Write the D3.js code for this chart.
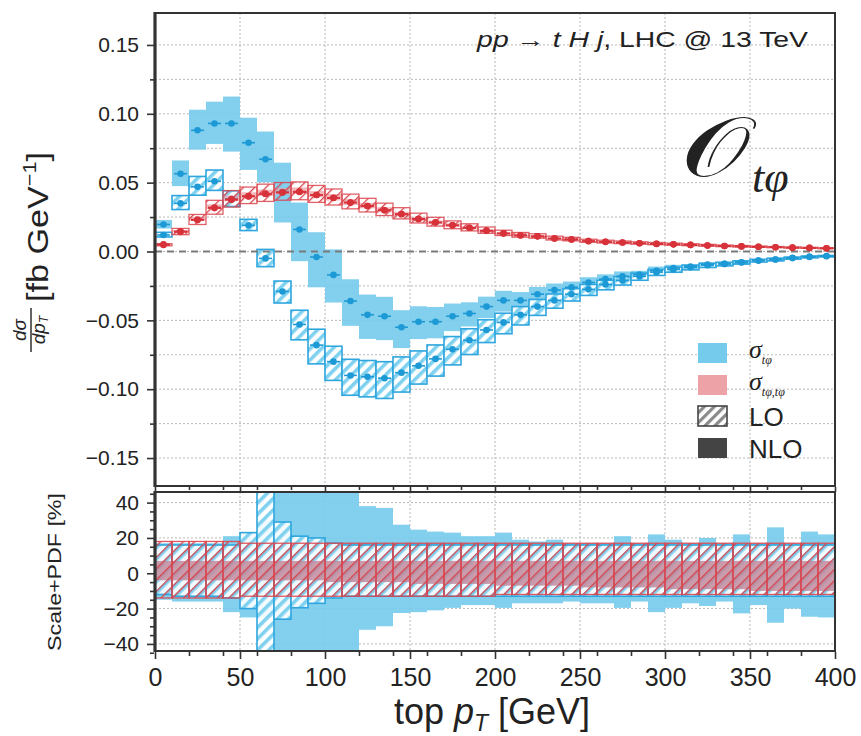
<!DOCTYPE html>
<html>
<head>
<meta charset="utf-8">
<script src="https://cdn.jsdelivr.net/npm/d3@7"></script>
<style>
  body { margin: 0; background: #fff; }
  svg { display: block; }
  text { font-family: "Liberation Sans", Arial, Helvetica, sans-serif; fill: #222; }
  .serif { font-family: "Liberation Serif", "DejaVu Serif", serif; }
  .math { font-family: "DejaVu Serif", "DejaVu Sans", serif; }
</style>
</head>
<body>
<svg id="chart" width="861" height="736"></svg>
<script>
// top-pT bin edges [GeV]
const binEdges = [0,10,20,30,40,50,60,70,80,90,100,110,120,130,140,150,160,170,180,190,200,
  210,220,230,240,250,260,270,280,290,300,310,320,330,340,350,360,370,380,390,400];

// dσ/dpT [fb/GeV], interference term σ_tφ
const blueNLO = [0.0196,0.0565,0.088,0.093,0.093,0.079,0.067,0.043,0.016,-0.004,
  -0.017,-0.036,-0.046,-0.047,-0.055,-0.051,-0.051,-0.047,-0.045,-0.040,
  -0.0355,-0.0355,-0.031,-0.028,-0.026,-0.0225,-0.020,-0.018,-0.0167,-0.014,
  -0.012,-0.011,-0.0094,-0.009,-0.008,-0.0065,-0.0058,-0.0045,-0.0036,-0.0033];
const blueLO = [0.012,0.035,0.047,0.051,0.038,0.019,-0.005,-0.029,-0.053,-0.068,
  -0.080,-0.090,-0.091,-0.092,-0.088,-0.083,-0.078,-0.071,-0.0645,-0.057,
  -0.0515,-0.046,-0.040,-0.0355,-0.031,-0.0275,-0.024,-0.021,-0.018,-0.015,
  -0.013,-0.0115,-0.010,-0.009,-0.0078,-0.0066,-0.0058,-0.0048,-0.004,-0.0034];

// dσ/dpT [fb/GeV], squared term σ_tφ,tφ
const redNLO = [0.0052,0.0146,0.0232,0.0320,0.0380,0.0402,0.0420,0.0430,0.0435,0.0410,
  0.0390,0.0355,0.0330,0.0300,0.0270,0.0235,0.0210,0.0190,0.0172,0.0150,
  0.0130,0.0116,0.0110,0.0094,0.0087,0.0075,0.0070,0.0065,0.0060,0.0055,
  0.0052,0.0048,0.0044,0.0040,0.0037,0.0034,0.0031,0.0028,0.0026,0.0023];
const redLO = [0.0048,0.0142,0.0228,0.0315,0.0375,0.0400,0.0418,0.0428,0.0432,0.0410,
  0.0388,0.0356,0.0330,0.0300,0.0272,0.0238,0.0212,0.0190,0.0172,0.0152,
  0.0132,0.0118,0.0110,0.0095,0.0088,0.0076,0.0070,0.0065,0.0060,0.0056,
  0.0052,0.0048,0.0044,0.0040,0.0037,0.0034,0.0031,0.0028,0.0026,0.0023];

// scale+PDF uncertainty [%] (upper / lower edge)
const blueNLOUp = [17,17,17,17,21,23,30,50,122,550,118,50,38,37,27.5,24.7,23.6,23,21,21,
  23,19,18,19,17,17,17,21,17,22,19,17,20,17,22,17,26,17,23.6,22];
const blueNLODn = [-15,-16,-16,-16,-22,-25,-25,-51,-144,-450,-109,-44,-32,-30,-22.5,-22,-21,-19.6,-18,-18,
  -19.6,-17,-17,-17,-16,-17,-17,-19.6,-16,-22,-19.6,-17,-18.5,-16,-22.7,-18,-28,-20,-24.6,-25];
const blueLOUp = [16,16,16,16,16,23,120,29,21,20,17,16,16,16,16,16,16,16,16,16,
  16,16,16,16,16,16,16,16,16,16,16,16,16,16,16,16,16,16,16,16];
const blueLODn = [-12,-13,-13,-13,-14,-20,-130,-26,-19.5,-17,-14,-13,-13,-13,-13,-13,-13,-13,-13,-13,
  -13,-13,-13,-13,-13,-13,-13,-13,-13,-13,-13,-13,-13,-13,-13,-13,-13,-13,-13,-13];
const redLOUp = [18,18,18,18,18,17,17,17,17,17,17,17,17,17,17,17,17,17,17,17,
  17,17,17,17,17,17,17,17,17,17,17,17,17,17,17,17,17,17,17,17];
const redLODn = [-14,-14,-14,-14,-14,-13,-13,-13,-13,-13,-13,-13,-13,-13,-13,-13,-13,-13,-13,-13,
  -12,-12,-12,-12,-12,-12,-12,-12,-12,-12,-12,-12,-12,-12,-12,-12,-12,-12,-12,-12];
const redNLOUp = [7,7,7,7,7,7,7,7,7,7,7,7,7,7,7,7,7,7,7,7,
  7,7,7,7,7,7,7,7,7,7,7,7,7,7,7,7,7,7,7,7];
const redNLODn = [-4,-4,-4,-4,-4,-4,-4,-4,-4,-4,-5,-5,-5,-5,-5,-6,-6,-6,-6,-6,
  -7,-7,-7,-7,-7,-8,-8,-8,-8,-8,-9,-9,-9,-9,-9,-10,-10,-10,-10,-10];

// axis ticks
const xMajor = [0,50,100,150,200,250,300,350,400];
const xMinor = [20,40,60,80,120,140,160,180,220,240,260,280,320,340,360,380];
const yMajor = [-0.15,-0.10,-0.05,0,0.05,0.10,0.15];
const yMinor = [-0.125,-0.075,-0.025,0.025,0.075,0.125];
const rMajor = [-40,-20,0,20,40];
const rMinor = [-45,-35,-30,-25,-15,-10,-5,5,10,15,25,30,35,45];

const C = {
  cyan: "#74cbec", cyanLine: "#2fa6de", blueDot: "#1d9ad5",
  pink: "#eda2a7", mauve: "#c1899c", redLine: "#dc454e", redDot: "#d7313a",
  frame: "#333", grid: "#b8b8b8"
};

const svg = d3.select("#chart");
const L = 155, R = 835, T1 = 13, B1 = 486, T2 = 492, B2 = 651;

const x = d3.scaleLinear().domain([0, 400]).range([L, R]);
const y = d3.scaleLinear().domain([-0.1703, 0.1732]).range([B1, T1]);
const yr = d3.scaleLinear().domain([-44, 46]).range([B2, T2]);

const defs = svg.append("defs");
function hatch(id, bg, bgOp, stripe, sw, size) {
  const p = defs.append("pattern").attr("id", id).attr("patternUnits", "userSpaceOnUse")
    .attr("width", size).attr("height", size).attr("patternTransform", "rotate(45)");
  if (bg) p.append("rect").attr("width", size).attr("height", size).attr("fill", bg).attr("opacity", bgOp);
  p.append("rect").attr("width", sw).attr("height", size).attr("fill", stripe);
}
hatch("hBlue", "#ffffff", 0.9, "#7fd1f0", 3.6, 8);
hatch("hRed", null, 0, "#d9434b", 1.3, 8);
hatch("hGray", "#ffffff", 1, "#8a8a8a", 3.2, 7);

defs.append("clipPath").attr("id", "clipMain").append("rect")
  .attr("x", L).attr("y", T1).attr("width", R - L).attr("height", B1 - T1);
defs.append("clipPath").attr("id", "clipRatio").append("rect")
  .attr("x", L).attr("y", T2).attr("width", R - L).attr("height", B2 - T2);

// grid
const grid = svg.append("g").attr("stroke", C.grid).attr("stroke-width", 1).attr("stroke-dasharray", "2,2");
[...yMajor, ...yMinor].forEach(v => grid.append("line").attr("x1", L).attr("x2", R).attr("y1", y(v)).attr("y2", y(v)));
rMajor.forEach(v => grid.append("line").attr("x1", L).attr("x2", R).attr("y1", yr(v)).attr("y2", yr(v)));
xMajor.slice(1, -1).forEach(v => {
  grid.append("line").attr("x1", x(v)).attr("x2", x(v)).attr("y1", T1).attr("y2", B1);
  grid.append("line").attr("x1", x(v)).attr("x2", x(v)).attr("y1", T2).attr("y2", B2);
});

const bins = binEdges.slice(0, -1).map((lo, i) => ({ i, lo, hi: binEdges[i + 1], c: (lo + binEdges[i + 1]) / 2 }));

// band boxes in the main panel, built from central value and relative uncertainty
function mainBoxes(g, vals, up, dn, attrs) {
  const edge = d => [vals[d.i] * (1 + up[d.i] / 100), vals[d.i] * (1 + dn[d.i] / 100)];
  const sel = g.selectAll(null).data(bins).enter().append("rect")
    .attr("x", d => x(d.lo)).attr("width", d => x(d.hi) - x(d.lo))
    .attr("y", d => y(d3.max(edge(d))))
    .attr("height", d => y(d3.min(edge(d))) - y(d3.max(edge(d))));
  Object.entries(attrs).forEach(([k, v]) => sel.attr(k, v));
}
function ratioBoxes(g, up, dn, attrs) {
  const sel = g.selectAll(null).data(bins).enter().append("rect")
    .attr("x", d => x(d.lo)).attr("width", d => x(d.hi) - x(d.lo))
    .attr("y", d => yr(up[d.i])).attr("height", d => yr(dn[d.i]) - yr(up[d.i]));
  Object.entries(attrs).forEach(([k, v]) => sel.attr(k, v));
}
function markers(g, vals, color) {
  const m = g.selectAll(null).data(bins).enter().append("g");
  m.append("line").attr("x1", d => x(d.lo + 1.2)).attr("x2", d => x(d.hi - 1.2))
    .attr("y1", d => y(vals[d.i])).attr("y2", d => y(vals[d.i]))
    .attr("stroke", color).attr("stroke-width", 1.6);
  m.append("circle").attr("cx", d => x(d.c)).attr("cy", d => y(vals[d.i])).attr("r", 3.3).attr("fill", color);
}

// main panel
const gm = svg.append("g").attr("clip-path", "url(#clipMain)");
mainBoxes(gm.append("g"), blueNLO, blueNLOUp, blueNLODn, { fill: C.cyan, opacity: 0.9 });
mainBoxes(gm.append("g"), blueLO, blueLOUp, blueLODn, { fill: "url(#hBlue)", stroke: C.cyanLine, "stroke-width": 1.6 });
mainBoxes(gm.append("g"), redNLO, redNLOUp, redNLODn, { fill: C.pink, opacity: 0.75 });
mainBoxes(gm.append("g"), redLO, redLOUp, redLODn, { fill: "url(#hRed)", stroke: C.redLine, "stroke-width": 1.3, "stroke-opacity": 0.85 });
gm.append("line").attr("x1", L).attr("x2", R).attr("y1", y(0)).attr("y2", y(0))
  .attr("stroke", "#7a7a7a").attr("stroke-width", 2).attr("stroke-dasharray", "7,5");
markers(gm.append("g"), blueLO, C.blueDot);
markers(gm.append("g"), blueNLO, C.blueDot);
markers(gm.append("g"), redLO, C.redDot);
markers(gm.append("g"), redNLO, C.redDot);

// ratio panel
const gr = svg.append("g").attr("clip-path", "url(#clipRatio)");
ratioBoxes(gr.append("g"), blueNLOUp, blueNLODn, { fill: C.cyan, opacity: 0.9 });
ratioBoxes(gr.append("g"), blueLOUp, blueLODn, { fill: "url(#hBlue)", stroke: C.cyanLine, "stroke-width": 1.6 });
ratioBoxes(gr.append("g"), redNLOUp, redNLODn, { fill: C.mauve, opacity: 0.85 });
ratioBoxes(gr.append("g"), redLOUp, redLODn, { fill: "url(#hRed)", stroke: C.redLine, "stroke-width": 1.3, "stroke-opacity": 0.9 });

// frames
function frame(top, bottom) {
  svg.append("rect").attr("x", L).attr("y", top).attr("width", R - L).attr("height", bottom - top)
    .attr("fill", "none").attr("stroke", C.frame).attr("stroke-width", 2);
  svg.append("line").attr("x1", L).attr("x2", L).attr("y1", top - 1).attr("y2", bottom + 1)
    .attr("stroke", C.frame).attr("stroke-width", 3.2);
}
frame(T1, B1);
frame(T2, B2);

// axes
function styleAxis(g, fs) {
  g.select(".domain").remove();
  g.selectAll(".tick line").attr("stroke", C.frame).attr("stroke-width", 1.6);
  g.selectAll(".tick text").attr("font-size", fs).attr("fill", "#222");
}
const fmtY = d3.format(".2f");
const axY = svg.append("g").attr("transform", `translate(${L - 1},0)`)
  .call(d3.axisLeft(y).tickValues(yMajor).tickFormat(fmtY).tickSize(7).tickPadding(8));
styleAxis(axY, 21);
svg.append("g").attr("transform", `translate(${L - 1},0)`)
  .call(d3.axisLeft(y).tickValues(yMinor).tickFormat("").tickSize(4)).call(g => styleAxis(g, 0));

const axR = svg.append("g").attr("transform", `translate(${L - 1},0)`)
  .call(d3.axisLeft(yr).tickValues(rMajor).tickFormat(d3.format("d")).tickSize(7).tickPadding(8));
styleAxis(axR, 21);
svg.append("g").attr("transform", `translate(${L - 1},0)`)
  .call(d3.axisLeft(yr).tickValues(rMinor).tickFormat("").tickSize(4)).call(g => styleAxis(g, 0));

const axX = svg.append("g").attr("transform", `translate(0,${B2 + 1})`)
  .call(d3.axisBottom(x).tickValues(xMajor).tickFormat(d3.format("d")).tickSize(7).tickPadding(9));
styleAxis(axX, 25);
svg.append("g").attr("transform", `translate(0,${B2 + 1})`)
  .call(d3.axisBottom(x).tickValues(xMinor).tickFormat("").tickSize(4)).call(g => styleAxis(g, 0));
// ticks between the panels
svg.append("g").attr("transform", `translate(0,${B1 + 1})`)
  .call(d3.axisBottom(x).tickValues(xMajor).tickFormat("").tickSize(5)).call(g => styleAxis(g, 0));
svg.append("g").attr("transform", `translate(0,${B1 + 1})`)
  .call(d3.axisBottom(x).tickValues(xMinor).tickFormat("").tickSize(3)).call(g => styleAxis(g, 0));

// stretch a text element along its own direction to a given length
function fitLength(g, textSel, len, tx, ty, rot) {
  const w = textSel.node().getComputedTextLength();
  g.attr("transform", `translate(${tx},${ty}) rotate(${rot}) scale(${len / w},1)`);
}

// axis titles
const xt = svg.append("text").attr("x", 492).attr("y", 724).attr("text-anchor", "middle").attr("font-size", 36);
xt.append("tspan").text("top ");
xt.append("tspan").attr("font-style", "italic").text("p");
xt.append("tspan").attr("font-style", "italic").attr("font-size", 23).attr("dy", 7).text("T");
xt.append("tspan").attr("dy", -7).text(" [GeV]");

// main y title: fraction dσ/dpT followed by the unit
const yl = svg.append("g").attr("transform", "translate(35,255) rotate(-90)");
const yUnitG = yl.append("g");
const ytxt = yUnitG.append("text").attr("x", 0).attr("y", 0).attr("font-size", 30);
ytxt.append("tspan").text("[fb GeV");
ytxt.append("tspan").attr("font-size", 19).attr("dy", -12).text("\u22121");
ytxt.append("tspan").attr("dy", 12).text("]");
fitLength(yUnitG, ytxt, 150, -47, 13, 0);
yl.append("text").attr("x", -75).attr("y", -9).attr("text-anchor", "middle").attr("font-size", 19)
  .attr("font-style", "italic").text("d\u03c3");
yl.append("line").attr("x1", -97).attr("x2", -53).attr("y1", -4).attr("y2", -4).attr("stroke", "#222").attr("stroke-width", 1.4);
const den = yl.append("text").attr("x", -75).attr("y", 10).attr("text-anchor", "middle").attr("font-size", 19).attr("font-style", "italic");
den.append("tspan").text("dp");
den.append("tspan").attr("font-size", 12).attr("dy", 3).text("T");

const rlG = svg.append("g");
const rl = rlG.append("text").attr("x", 0).attr("y", 0).attr("text-anchor", "middle")
  .attr("font-size", 19).text("Scale+PDF [%]");
fitLength(rlG, rl, 158, 61, 572, -90);

// process annotation, stretched to its box width
const annG = svg.append("g");
const ann = annG.append("text").attr("x", 0).attr("y", 0).attr("text-anchor", "end").attr("font-size", 22);
ann.append("tspan").attr("font-style", "italic").text("pp");
ann.append("tspan").text(" \u2192 ");
ann.append("tspan").attr("font-style", "italic").text("t H j");
ann.append("tspan").text(", LHC @ 13 TeV");
fitLength(annG, ann, 331, 808, 47, 0);

// operator label
const opG = svg.append("g").attr("transform", "translate(681,176) scale(1.3,1)");
opG.append("text").attr("class", "math").attr("x", 0).attr("y", 0).attr("font-size", 84)
  .attr("fill", "#111").text("\ud835\udcaa");
svg.append("text").attr("class", "serif").attr("x", 752).attr("y", 192)
  .attr("font-size", 44).attr("font-style", "italic").attr("fill", "#111").text("t\u03c6");

// legend
const leg = svg.append("g");
const lx = 698, lw = 29, lh = 20;
const items = [
  { y: 343, fill: C.cyan, label: "sigma", sub: "t\u03c6" },
  { y: 375, fill: C.pink, label: "sigma", sub: "t\u03c6,t\u03c6" },
  { y: 406, fill: "url(#hGray)", stroke: "#444", label: "LO" },
  { y: 438, fill: "#444", label: "NLO" }
];
items.forEach(it => {
  leg.append("rect").attr("x", lx).attr("y", it.y).attr("width", lw).attr("height", lh)
    .attr("fill", it.fill).attr("stroke", it.stroke || "none").attr("stroke-width", 1.6);
  if (it.label === "sigma") {
    const t = leg.append("text").attr("class", "serif").attr("x", 749).attr("y", it.y + 15);
    t.append("tspan").attr("font-size", 26).attr("font-style", "italic").text("\u03c3");
    t.append("tspan").attr("font-size", 12).attr("font-style", "italic").attr("dy", 6).text(it.sub);
  } else {
    leg.append("text").attr("x", 749).attr("y", it.y + 20).attr("font-size", 26).text(it.label);
  }
});
</script>
</body>
</html>
